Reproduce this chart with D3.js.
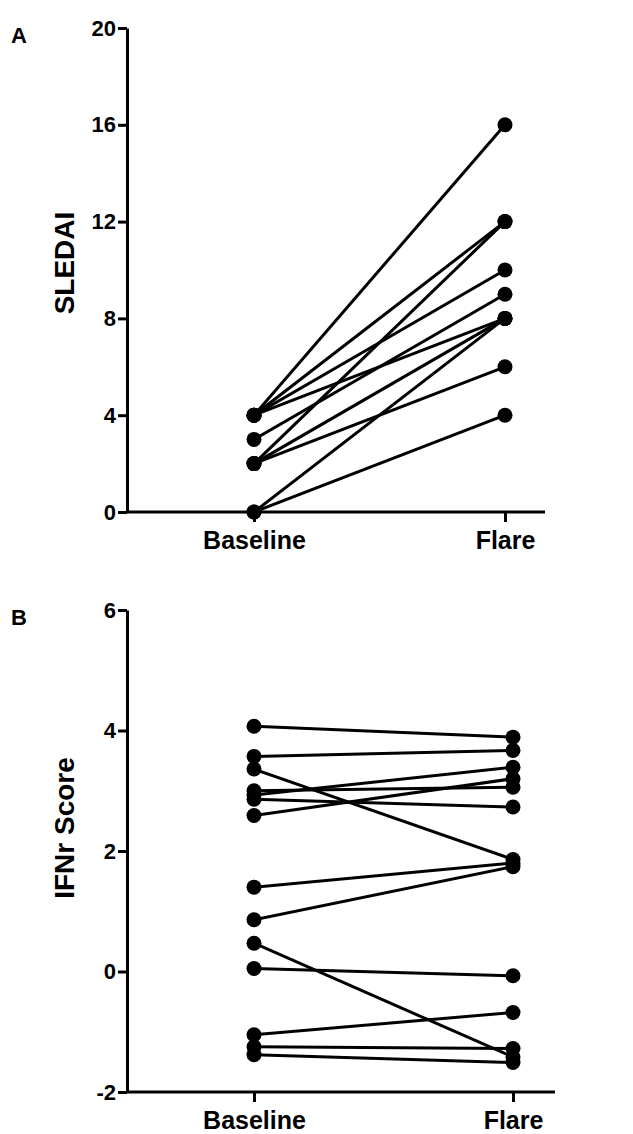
<!DOCTYPE html>
<html>
<head>
<meta charset="utf-8">
<script src="https://cdn.jsdelivr.net/npm/d3@7"></script>
<style>
	body { margin: 0; background: #fff; }
	svg { display: block; }
	text { font-family: 'Liberation Sans', Arial, sans-serif; font-weight: bold; fill: #000; }
	.axis path, .axis line { stroke: #000; stroke-width: 3; }
</style>
</head>
<body>
<div id="chart"></div>
<script>
let width = 633
let height = 1134

// groups on the x axis
let groups = ['Baseline', 'Flare']

// panel A: SLEDAI, one pair per patient
let sledaiBaseline = [4, 4, 4, 4, 3, 2, 2, 2, 0, 0]
let sledaiFlare = [16, 12, 10, 8, 9, 12, 8, 6, 8, 4]
let sledaiTicks = [0, 4, 8, 12, 16, 20]

// panel B: IFNr score, one pair per patient
let ifnBaseline = [4.07, 3.57, 3.36, 3.00, 2.93, 2.86, 2.59, 1.40, 0.86, 0.47, 0.05, -1.05, -1.25, -1.38]
let ifnFlare = [3.89, 3.67, 1.86, 3.06, 3.39, 2.73, 3.20, 1.80, 1.74, -1.42, -0.07, -0.68, -1.28, -1.51]
let ifnTicks = [-2, 0, 2, 4, 6]

let svg = d3.select('#chart').append('svg')
	.attr('width', width)
	.attr('height', height)

function panel(opts) {
	let g = svg.append('g')

	let x = d3.scalePoint()
		.domain(groups)
		.range([254, opts.flareX])

	let y = d3.scaleLinear()
		.domain(opts.domain)
		.range([opts.bottom, opts.top])

	let pairs = opts.base.map((b, i) => [b, opts.flare[i]])

	// x axis
	let xAxis = g.append('g')
		.attr('class', 'axis')
		.attr('transform', `translate(0,${opts.bottom})`)
		.call(d3.axisBottom(x).tickSize(10).tickPadding(9))
	xAxis.select('.domain').remove()
	xAxis.append('line')
		.attr('x1', 126).attr('x2', opts.axisEnd)
		.attr('y1', 0).attr('y2', 0)
	xAxis.selectAll('text')
		.style('font-size', '25px')

	// y axis
	let yAxis = g.append('g')
		.attr('class', 'axis')
		.attr('transform', 'translate(127,0)')
		.call(d3.axisLeft(y).tickValues(opts.ticks).tickSize(9).tickSizeOuter(0).tickPadding(2)
			.tickFormat((d) => String(d)))
	yAxis.selectAll('text')
		.style('font-size', '22px')

	g.append('text')
		.attr('transform', `translate(${opts.titleX},${opts.titleY}) rotate(-90)`)
		.attr('text-anchor', 'middle')
		.attr('dy', '0.35em')
		.style('font-size', opts.titleSize)
		.text(opts.title)

	g.append('text')
		.attr('x', 11)
		.attr('y', opts.top + 15)
		.style('font-size', '22px')
		.text(opts.letter)

	let marks = g.append('g')

	marks.selectAll('line.pair')
		.data(pairs)
		.enter().append('line')
		.attr('class', 'pair')
		.attr('x1', x(groups[0]))
		.attr('x2', x(groups[1]))
		.attr('y1', (d) => y(d[0]))
		.attr('y2', (d) => y(d[1]))
		.attr('stroke', '#000')
		.attr('stroke-width', 3)

	marks.selectAll('circle.base')
		.data(opts.base)
		.enter().append('circle')
		.attr('cx', x(groups[0]))
		.attr('cy', (d) => y(d))
		.attr('r', 7.5)
		.attr('fill', '#000')

	marks.selectAll('circle.flare')
		.data(opts.flare)
		.enter().append('circle')
		.attr('cx', x(groups[1]))
		.attr('cy', (d) => y(d))
		.attr('r', 7.5)
		.attr('fill', '#000')
}

panel({
	base: sledaiBaseline, flare: sledaiFlare, ticks: sledaiTicks,
	domain: [0, 20], top: 28, bottom: 512, flareX: 505, axisEnd: 545,
	title: 'SLEDAI', titleX: 64, titleY: 263, titleSize: '28px', letter: 'A'
})

panel({
	base: ifnBaseline, flare: ifnFlare, ticks: ifnTicks,
	domain: [-2, 6], top: 610, bottom: 1092, flareX: 513, axisEnd: 555,
	title: 'IFNr Score', titleX: 64, titleY: 828, titleSize: '28px', letter: 'B'
})
</script>
</body>
</html>
